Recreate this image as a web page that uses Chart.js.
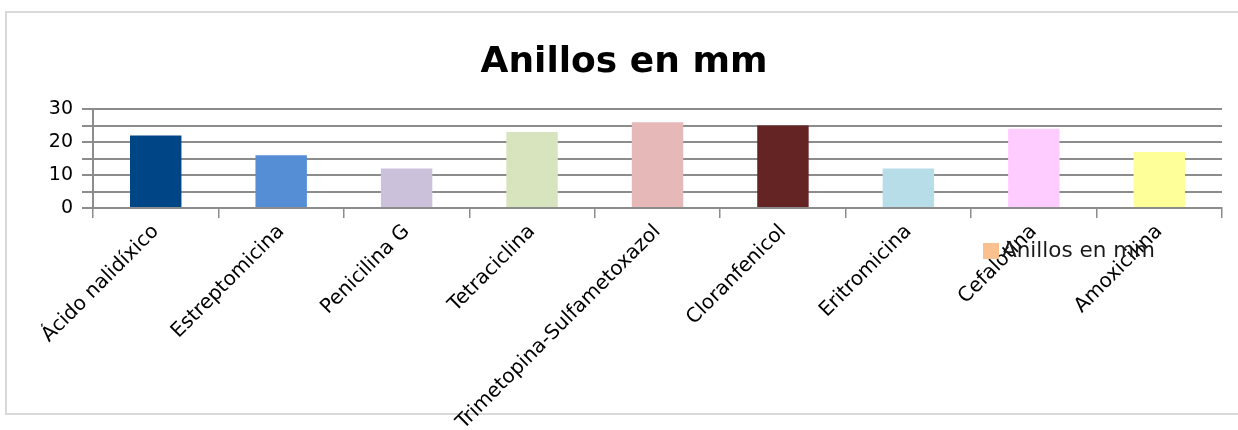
<!DOCTYPE html>
<html>
<head>
<meta charset="utf-8">
<script src="https://cdn.jsdelivr.net/npm/chart.js@4/dist/chart.umd.min.js"></script>
<style>
  html, body { margin: 0; padding: 0; background: #ffffff; }
  #wrap { position: relative; width: 1238px; height: 430px; overflow: hidden; }
  #frame { position: absolute; left: 5px; top: 11px; width: 1300px; height: 400px; border: 2px solid #d9d9d9; }
  canvas { position: absolute; left: 0; top: 0; }
</style>
</head>
<body>
<div id="wrap">
  <div id="frame"></div>
  <canvas id="c" width="1238" height="430"></canvas>
</div>
<script>
const categories = ["Ácido nalidíxico", "Estreptomicina", "Penicilina G", "Tetraciclina",
  "Trimetopina-Sulfametoxazol", "Cloranfenicol", "Eritromicina", "Cefalotina", "Amoxicilina"];
const values = [22, 16, 12, 23, 26, 25, 12, 24, 17];
const barColors = ["#004586", "#558ed5", "#ccc1da", "#d7e4bd", "#e6b9b8", "#632423", "#b7dee8", "#ffccff", "#ffff99"];
const seriesName = "Anillos en mm";
const legendColor = "#fac090";
const yTickValues = [0, 5, 10, 15, 20, 25, 30];
const yTickLabels = [0, 10, 20, 30];

const FONT = "'DejaVu Sans', sans-serif";

const legendPlugin = {
  id: 'customLegend',
  afterDraw(chart) {
    const ctx = chart.ctx;
    const a = chart.chartArea;
    const x = a.right - 239, y = a.bottom + 35;
    ctx.save();
    ctx.fillStyle = legendColor;
    ctx.fillRect(x, y, 16, 16);
    ctx.fillStyle = '#1a1a1a';
    ctx.font = '21.5px ' + FONT;
    ctx.textBaseline = 'middle';
    ctx.textAlign = 'left';
    ctx.fillText(seriesName, x + 19, y + 8);
    ctx.restore();
  }
};

new Chart(document.getElementById('c'), {
  type: 'bar',
  data: {
    labels: categories,
    datasets: [{
      label: seriesName,
      data: values,
      backgroundColor: barColors,
      borderWidth: 0,
      barPercentage: 0.41,
      categoryPercentage: 1.0
    }]
  },
  options: {
    responsive: false,
    animation: false,
    layout: { padding: { left: 26, right: 16, top: 0, bottom: 0 } },
    plugins: {
      legend: { display: false },
      tooltip: { enabled: false },
      title: {
        display: true,
        text: seriesName,
        color: '#000',
        font: { family: FONT, size: 36, weight: 'bold', lineHeight: 1.2 },
        padding: { top: 41, bottom: 24.8 }
      }
    },
    scales: {
      x: {
        offset: true,
        grid: { display: true, offset: true, drawOnChartArea: false, drawTicks: true, tickLength: 10, color: '#8c8c8c', lineWidth: 1.5 },
        border: { display: true, color: '#8c8c8c', width: 2 },
        ticks: { color: '#000', font: { family: FONT, size: 20 }, minRotation: 45, maxRotation: 45, autoSkip: false, padding: 2 },
        afterFit(scale) { scale.height = 222; }
      },
      y: {
        min: 0, max: 30,
        afterBuildTicks(scale) {
          scale.ticks = yTickValues.map(v => ({ value: v }));
        },
        grid: { color: '#8c8c8c', lineWidth: 2, drawTicks: true, tickLength: 11 },
        border: { display: true, color: '#8c8c8c', width: 2 },
        ticks: {
          color: '#000',
          autoSkip: false,
          font: { family: FONT, size: 19 },
          padding: 9,
          callback: (v) => yTickLabels.includes(v) ? String(v) : ''
        },
        afterFit(scale) { scale.width = 67; }
      }
    }
  },
  plugins: [legendPlugin]
});
</script>
</body>
</html>
